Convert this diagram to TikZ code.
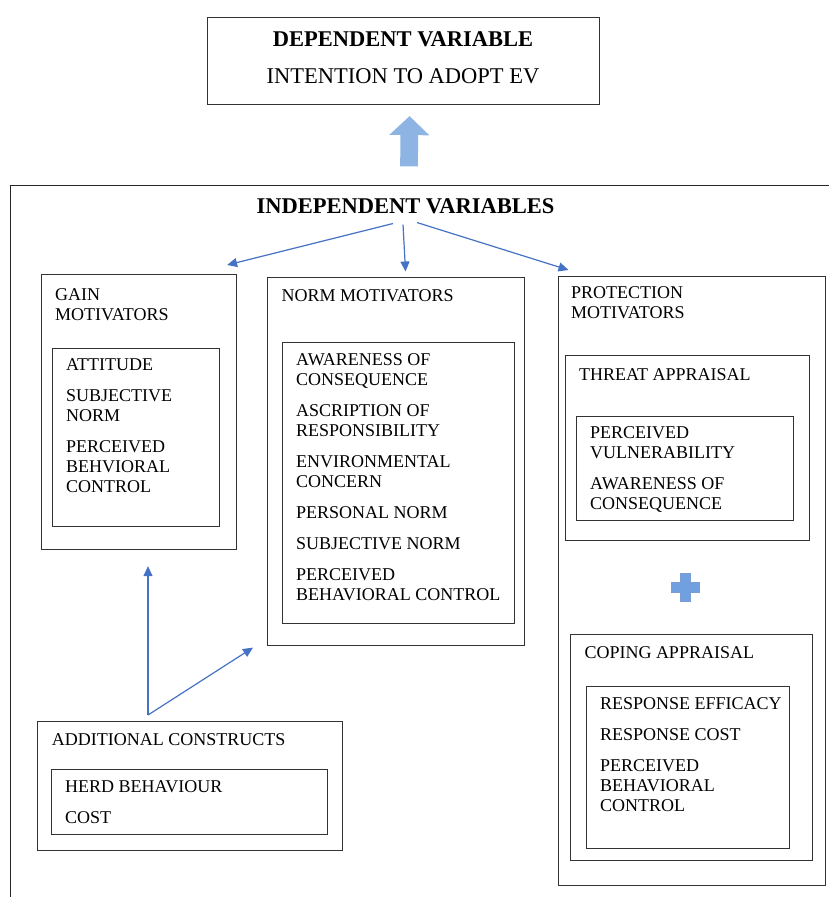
\documentclass[tikz,border=0pt]{standalone}
\usepackage{fontspec}
\setmainfont{Liberation Serif}
\usetikzlibrary{arrows.meta}
\definecolor{linkblue}{RGB}{68,114,196}
\definecolor{liftblue}{RGB}{142,180,227}
\definecolor{plusblue}{RGB}{112,160,224}
\tikzset{
  boxframe/.style={draw=black!80, line width=1.1pt, inner sep=0pt, anchor=north west},
  itemtext/.style={inner sep=0pt, anchor=north west, align=left, font=\fontsize{18}{20}\selectfont},
  heading/.style={inner sep=0pt, anchor=base, font=\fontsize{22.5}{24}\selectfont},
  link/.style={draw=linkblue, line width=1.2pt, -{Triangle[length=10pt,width=9pt]}}
}
\begin{document}
\begin{tikzpicture}[x=1pt,y=-1pt]
\useasboundingbox (0,0) rectangle (829,897);
\clip (0,0) rectangle (829,897);
% dependent side
\node[boxframe, minimum width=392, minimum height=87] (dep) at (207,17) {};
\node[heading] (deptitle) at (403,46.7) {\bfseries DEPENDENT VARIABLE};
\node[heading] (depname) at (403,83) {INTENTION TO ADOPT EV};
% independent side
\draw[black!85, line width=1pt] (10,185) rectangle (845,915);
\node[heading] (indep) at (405.5,213) {\bfseries INDEPENDENT VARIABLES};
\draw[liftblue, line width=17.7pt, -{Triangle[length=19pt,width=39pt]}]
  ([xshift=3.5pt,yshift=31.5pt]indep.north) -- ([xshift=6pt,yshift=-11pt]dep.south);

\node[boxframe, minimum width=195, minimum height=274.5] (gain) at (41,274) {};
\node[boxframe, minimum width=167, minimum height=177.5] (gaininner) at (52,348) {};
\node[itemtext] (gaintitle) at (55,288) {GAIN\\MOTIVATORS};
\node[itemtext] (gainitems) at (66,358.1) {ATTITUDE\\[11pt]SUBJECTIVE\\NORM\\[11pt]PERCEIVED\\BEHVIORAL\\CONTROL};

\node[boxframe, minimum width=257, minimum height=367.5] (norm) at (267,277) {};
\node[boxframe, minimum width=232, minimum height=280.5] (norminner) at (282,342) {};
\node[itemtext] (normtitle) at (281.5,289.8) {NORM MOTIVATORS};
\node[itemtext] (normitems) at (296,353.1) {AWARENESS OF\\CONSEQUENCE\\[11pt]ASCRIPTION OF\\RESPONSIBILITY\\[11pt]ENVIRONMENTAL\\CONCERN\\[11pt]PERSONAL NORM\\[11pt]SUBJECTIVE NORM\\[11pt]PERCEIVED\\BEHAVIORAL CONTROL};

\node[boxframe, minimum width=266.5, minimum height=609] (prot) at (558,276) {};
\node[itemtext] (prottitle) at (571,286.6) {PROTECTION\\MOTIVATORS};
\node[boxframe, minimum width=244.5, minimum height=184.5] (threat) at (564.5,355) {};
\node[itemtext] (threattitle) at (579,368.1) {THREAT APPRAISAL};
\node[boxframe, minimum width=216.5, minimum height=104] (threatinner) at (576,416) {};
\node[itemtext] (threatitems) at (590,426.4) {PERCEIVED\\VULNERABILITY\\[11pt]AWARENESS OF\\CONSEQUENCE};
\filldraw[plusblue, draw=linkblue!70, line width=0.6pt, shift={(685,587.5)}]
  (-5,-14) -- (5,-14) -- (5,-5) -- (14,-5) -- (14,5) -- (5,5) -- (5,14) -- (-5,14)
  -- (-5,5) -- (-14,5) -- (-14,-5) -- (-5,-5) -- cycle;
\node[boxframe, minimum width=241.5, minimum height=225.5] (coping) at (570,634) {};
\node[itemtext] (copingtitle) at (584.3,646.4) {COPING APPRAISAL};
\node[boxframe, minimum width=202.5, minimum height=161.5] (copinginner) at (586,686) {};
\node[itemtext] (copingitems) at (600,697.4) {RESPONSE EFFICACY\\[11pt]RESPONSE COST\\[11pt]PERCEIVED\\BEHAVIORAL\\CONTROL};

\node[boxframe, minimum width=305, minimum height=129] (addl) at (37,721) {};
\node[itemtext] (addltitle) at (51.7,733.8) {ADDITIONAL CONSTRUCTS};
\node[boxframe, minimum width=275.5, minimum height=65] (addlinner) at (51,769) {};
\node[itemtext] (addlitems) at (65,780.4) {HERD BEHAVIOUR\\[11pt]COST};

% connectors
\draw[link] ([xshift=-12.5pt,yshift=-10pt]indep.south) -- ([xshift=-10pt,yshift=9pt]gain.north east);
\draw[link] ([xshift=-2.5pt,yshift=-11pt]indep.south) -- ([xshift=9.5pt,yshift=5.5pt]norm.north);
\draw[link] ([xshift=11.5pt,yshift=-9pt]indep.south) -- ([xshift=10.5pt,yshift=6pt]prot.north west);
\draw[link] ([xshift=111pt,yshift=6pt]addl.north west) -- ([xshift=107pt,yshift=-16.5pt]gain.south west);
\draw[link] ([xshift=111pt,yshift=6pt]addl.north west) -- ([xshift=-14pt,yshift=-2pt]norm.south west);
\end{tikzpicture}
\end{document}
